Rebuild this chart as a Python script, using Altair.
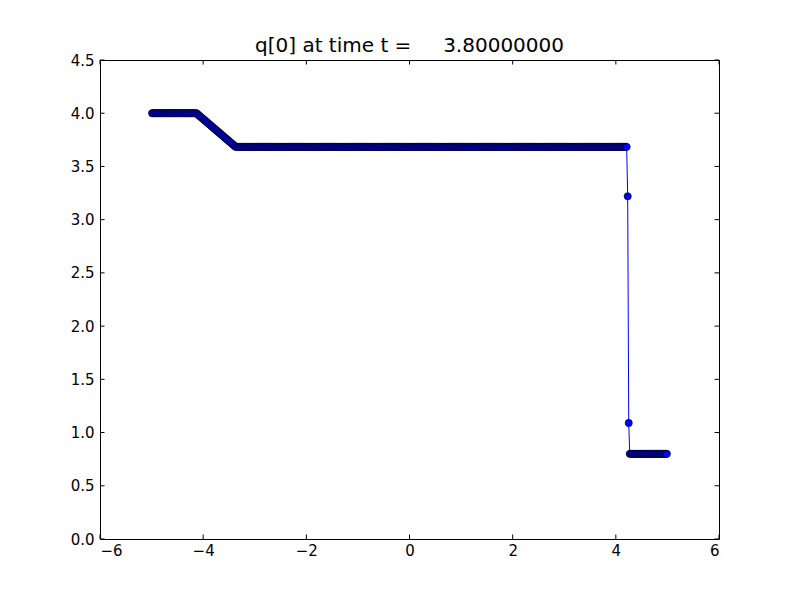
import altair as alt
import numpy as np
import pandas as pd

# cell-centre grid of the solution (500 cells on [-5, 5])
x_cells = np.round(np.arange(-4.99, 5.0, 0.02), 2)

# q[0], run by run
left_state = [4.0] * 44
ramp = [3.992, 3.983, 3.975, 3.967, 3.958, 3.950, 3.942, 3.933, 3.925, 3.917,
        3.909, 3.900, 3.892, 3.884, 3.875, 3.867, 3.859, 3.850, 3.842, 3.834,
        3.825, 3.817, 3.809, 3.800, 3.792, 3.784, 3.775, 3.767, 3.759, 3.751,
        3.742, 3.734, 3.726, 3.717, 3.709, 3.701, 3.692]
middle_state = [3.684] * 380
shock = [3.22, 1.09]
right_state = [0.8] * 37

q0 = left_state + ramp + middle_state + shock + right_state

x_ticks = [-6, -4, -2, 0, 2, 4, 6]
y_ticks = [0.0, 0.5, 1.0, 1.5, 2.0, 2.5, 3.0, 3.5, 4.0, 4.5]

title_text = "q[0] at time t =\u00a0\u00a0\u00a0\u00a0\u00a03.80000000"

df = pd.DataFrame({"x": x_cells[:len(q0)], "q": q0})
xt = pd.DataFrame({"t": x_ticks})
yt = pd.DataFrame({"t": y_ticks})

W, H = 619, 479
FONT = "DejaVu Sans"
LABEL_SIZE = 15

xs = alt.Scale(domain=[-6, 6], nice=False, zero=False)
ys = alt.Scale(domain=[0, 4.5], nice=False, zero=False)

base = alt.Chart(df)

line = base.mark_line(color="#0000ff", strokeWidth=1).encode(
    x=alt.X("x:Q", scale=xs, axis=alt.Axis(values=x_ticks, format="d", title=None,
                                           ticks=False, tickSize=0, domain=False,
                                           grid=False, labelPadding=4,
                                           labelFont=FONT, labelFontSize=LABEL_SIZE,
                                           labelColor="black")),
    y=alt.Y("q:Q", scale=ys, axis=alt.Axis(values=y_ticks, format=".1f", title=None,
                                           ticks=False, tickSize=0, domain=False,
                                           grid=False, labelPadding=6,
                                           labelFont=FONT, labelFontSize=LABEL_SIZE,
                                           labelColor="black")),
)

points = base.mark_point(filled=True, shape="circle", size=52, fill="#0000ff",
                         stroke="black", strokeWidth=0.6, opacity=1).encode(
    x=alt.X("x:Q", scale=xs),
    y=alt.Y("q:Q", scale=ys),
)

tick_len = 4.5
xb = alt.Chart(xt).mark_rule(color="black", strokeWidth=1).encode(
    x=alt.X("t:Q", scale=xs), y=alt.value(H), y2=alt.value(H - tick_len))
xtop = alt.Chart(xt).mark_rule(color="black", strokeWidth=1).encode(
    x=alt.X("t:Q", scale=xs), y=alt.value(0), y2=alt.value(tick_len))
yl = alt.Chart(yt).mark_rule(color="black", strokeWidth=1).encode(
    y=alt.Y("t:Q", scale=ys), x=alt.value(0), x2=alt.value(tick_len))
yr = alt.Chart(yt).mark_rule(color="black", strokeWidth=1).encode(
    y=alt.Y("t:Q", scale=ys), x=alt.value(W), x2=alt.value(W - tick_len))

chart = (
    alt.layer(line, points, xb, xtop, yl, yr)
    .properties(
        width=W, height=H,
        title=alt.TitleParams(title_text, font=FONT, fontSize=20, fontWeight="normal",
                              color="black", anchor="middle", baseline="alphabetic",
                              offset=5, dy=24),
        autosize=alt.AutoSizeParams(type="none"),
        padding={"left": 92, "top": 52, "right": 73, "bottom": 53},
        background="white",
    )
    .configure_view(stroke="black", strokeWidth=1)
)

chart.save("out.html", embed_options={"renderer": "svg", "actions": False})
